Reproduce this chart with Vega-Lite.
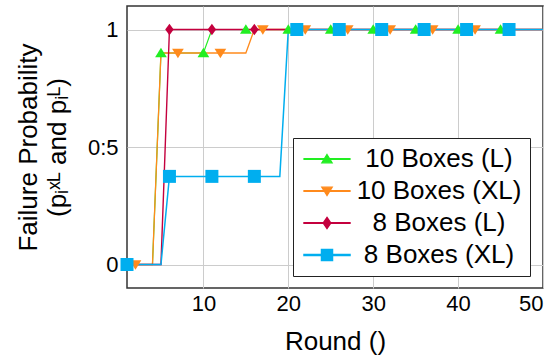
{
  "$schema": "https://vega.github.io/schema/vega-lite/v6.json",
  "width": 416,
  "height": 282,
  "autosize": {"type": "none"},
  "padding": {"left": 127, "top": 6, "right": 17, "bottom": 72},
  "config": {
    "font": "Liberation Sans",
    "view": {"stroke": "#333333", "strokeWidth": 1.5},
    "axis": {
      "grid": true,
      "gridColor": "#cccccc",
      "gridWidth": 1,
      "domain": false,
      "ticks": false,
      "labelFontSize": 22,
      "labelColor": "#000000",
      "titleFontSize": 26,
      "titleFontWeight": "normal",
      "titleColor": "#000000"
    },
    "legend": {
      "orient": "none",
      "legendX": 166,
      "legendY": 132,
      "fillColor": "#ffffff",
      "strokeColor": "#222222",
      "padding": 8,
      "labelFontSize": 26,
      "labelColor": "#000000",
      "labelAlign": "center",
      "labelOffset": 99,
      "labelLimit": 300,
      "symbolSize": 400,
      "symbolOffset": 13,
      "symbolOpacity": 1,
      "symbolStrokeWidth": 1,
      "rowPadding": 6
    }
  },
  "datasets": {
    "lines": [
      {"series": "10 Boxes (L)", "round": 1, "p": 0},
      {"series": "10 Boxes (L)", "round": 4, "p": 0},
      {"series": "10 Boxes (L)", "round": 5, "p": 0.9},
      {"series": "10 Boxes (L)", "round": 10, "p": 0.9},
      {"series": "10 Boxes (L)", "round": 11, "p": 1},
      {"series": "10 Boxes (L)", "round": 50, "p": 1},
      {"series": "10 Boxes (XL)", "round": 1, "p": 0},
      {"series": "10 Boxes (XL)", "round": 4, "p": 0},
      {"series": "10 Boxes (XL)", "round": 5, "p": 0.9},
      {"series": "10 Boxes (XL)", "round": 15, "p": 0.9},
      {"series": "10 Boxes (XL)", "round": 16, "p": 1},
      {"series": "10 Boxes (XL)", "round": 50, "p": 1},
      {"series": "8 Boxes (L)", "round": 1, "p": 0},
      {"series": "8 Boxes (L)", "round": 5, "p": 0},
      {"series": "8 Boxes (L)", "round": 6, "p": 1},
      {"series": "8 Boxes (L)", "round": 50, "p": 1},
      {"series": "8 Boxes (XL)", "round": 1, "p": 0},
      {"series": "8 Boxes (XL)", "round": 5, "p": 0},
      {"series": "8 Boxes (XL)", "round": 6, "p": 0.375},
      {"series": "8 Boxes (XL)", "round": 19, "p": 0.375},
      {"series": "8 Boxes (XL)", "round": 20, "p": 1},
      {"series": "8 Boxes (XL)", "round": 50, "p": 1}
    ],
    "markers": [
      {"series": "10 Boxes (L)", "round": 5, "p": 0.9},
      {"series": "10 Boxes (L)", "round": 10, "p": 0.9},
      {"series": "10 Boxes (L)", "round": 15, "p": 1},
      {"series": "10 Boxes (L)", "round": 20, "p": 1},
      {"series": "10 Boxes (L)", "round": 25, "p": 1},
      {"series": "10 Boxes (L)", "round": 30, "p": 1},
      {"series": "10 Boxes (L)", "round": 35, "p": 1},
      {"series": "10 Boxes (L)", "round": 40, "p": 1},
      {"series": "10 Boxes (L)", "round": 45, "p": 1},
      {"series": "10 Boxes (XL)", "round": 2, "p": 0},
      {"series": "10 Boxes (XL)", "round": 7, "p": 0.9},
      {"series": "10 Boxes (XL)", "round": 12, "p": 0.9},
      {"series": "10 Boxes (XL)", "round": 17, "p": 1},
      {"series": "10 Boxes (XL)", "round": 22, "p": 1},
      {"series": "10 Boxes (XL)", "round": 27, "p": 1},
      {"series": "10 Boxes (XL)", "round": 32, "p": 1},
      {"series": "10 Boxes (XL)", "round": 37, "p": 1},
      {"series": "10 Boxes (XL)", "round": 42, "p": 1},
      {"series": "8 Boxes (L)", "round": 1, "p": 0},
      {"series": "8 Boxes (L)", "round": 6, "p": 1},
      {"series": "8 Boxes (L)", "round": 11, "p": 1},
      {"series": "8 Boxes (L)", "round": 16, "p": 1},
      {"series": "8 Boxes (L)", "round": 21, "p": 1},
      {"series": "8 Boxes (L)", "round": 26, "p": 1},
      {"series": "8 Boxes (L)", "round": 31, "p": 1},
      {"series": "8 Boxes (L)", "round": 36, "p": 1},
      {"series": "8 Boxes (L)", "round": 41, "p": 1},
      {"series": "8 Boxes (L)", "round": 46, "p": 1},
      {"series": "8 Boxes (XL)", "round": 1, "p": 0},
      {"series": "8 Boxes (XL)", "round": 6, "p": 0.375},
      {"series": "8 Boxes (XL)", "round": 11, "p": 0.375},
      {"series": "8 Boxes (XL)", "round": 16, "p": 0.375},
      {"series": "8 Boxes (XL)", "round": 21, "p": 1},
      {"series": "8 Boxes (XL)", "round": 26, "p": 1},
      {"series": "8 Boxes (XL)", "round": 31, "p": 1},
      {"series": "8 Boxes (XL)", "round": 36, "p": 1},
      {"series": "8 Boxes (XL)", "round": 41, "p": 1},
      {"series": "8 Boxes (XL)", "round": 46, "p": 1}
    ]
  },
  "encoding": {
    "x": {
      "field": "round",
      "type": "quantitative",
      "scale": {"domain": [1, 50], "nice": false, "zero": false},
      "axis": {"values": [10, 20, 30, 40, 50], "labelPadding": 5, "title": "Round ()", "titlePadding": 14}
    },
    "y": {
      "field": "p",
      "type": "quantitative",
      "scale": {"domain": [-0.1, 1.1], "nice": false, "zero": false},
      "axis": {
        "values": [0, 0.5, 1],
        "labelExpr": "datum.value == 0.5 ? '0:5' : (datum.value == 1 ? '1' : '0')",
        "labelPadding": 9,
        "title": ["Failure Probability", "(pᵢˣᴸ and pᵢᴸ)"],
        "titleLineHeight": 29,
        "titlePadding": 17
      }
    }
  },
  "layer": [
    {
      "data": {"name": "lines"},
      "mark": {"type": "line", "clip": true},
      "encoding": {
        "color": {
          "field": "series",
          "type": "nominal",
          "scale": {
            "domain": ["10 Boxes (L)", "10 Boxes (XL)", "8 Boxes (L)", "8 Boxes (XL)"],
            "range": ["#22ee22", "#ff8a1c", "#c4003e", "#00aeef"]
          },
          "legend": {"title": null}
        },
        "strokeWidth": {
          "field": "series",
          "type": "nominal",
          "scale": {
            "domain": ["10 Boxes (L)", "10 Boxes (XL)", "8 Boxes (L)", "8 Boxes (XL)"],
            "range": [1.2, 1.5, 1.5, 3]
          },
          "legend": null
        }
      }
    },
    {
      "data": {"name": "markers"},
      "transform": [{"filter": "false"}],
      "mark": {"type": "point", "filled": true, "opacity": 1},
      "encoding": {
        "color": {"field": "series", "type": "nominal", "legend": {"title": null}},
        "shape": {
          "field": "series",
          "type": "nominal",
          "scale": {
            "domain": ["10 Boxes (L)", "10 Boxes (XL)", "8 Boxes (L)", "8 Boxes (XL)"],
            "range": [
              "M-2.3,-0.03H2.3V0.03H-2.3ZM0,-0.45L0.52,0.38H-0.52Z",
              "M-2.3,-0.03H2.3V0.03H-2.3ZM0,0.45L-0.52,-0.38H0.52Z",
              "M-2.3,-0.03H2.3V0.03H-2.3ZM0,-0.55L0.38,0L0,0.55L-0.38,0Z",
              "M-2.3,-0.05H2.3V0.05H-2.3ZM-0.55,-0.55H0.55V0.55H-0.55Z"
            ]
          },
          "legend": null
        }
      }
    },
    {
      "data": {"name": "markers"},
      "transform": [{"filter": "datum.series == '10 Boxes (L)'"}],
      "mark": {"type": "point", "filled": true, "opacity": 1, "size": 169, "color": "#22ee22", "shape": "M0,-0.8L0.9,0.65H-0.9Z"}
    },
    {
      "data": {"name": "markers"},
      "transform": [{"filter": "datum.series == '10 Boxes (XL)'"}],
      "mark": {"type": "point", "filled": true, "opacity": 1, "size": 169, "color": "#ff8a1c", "shape": "M0,0.8L0.9,-0.65H-0.9Z"}
    },
    {
      "data": {"name": "markers"},
      "transform": [{"filter": "datum.series == '8 Boxes (L)'"}],
      "mark": {"type": "point", "filled": true, "opacity": 1, "size": 169, "color": "#c4003e", "shape": "M0,-0.9L0.65,0L0,0.9L-0.65,0Z"}
    },
    {
      "data": {"name": "markers"},
      "transform": [{"filter": "datum.series == '8 Boxes (XL)'"}],
      "mark": {"type": "point", "filled": true, "opacity": 1, "size": 169, "color": "#00aeef", "shape": "M-1,-1H1V1H-1Z"}
    }
  ]
}
